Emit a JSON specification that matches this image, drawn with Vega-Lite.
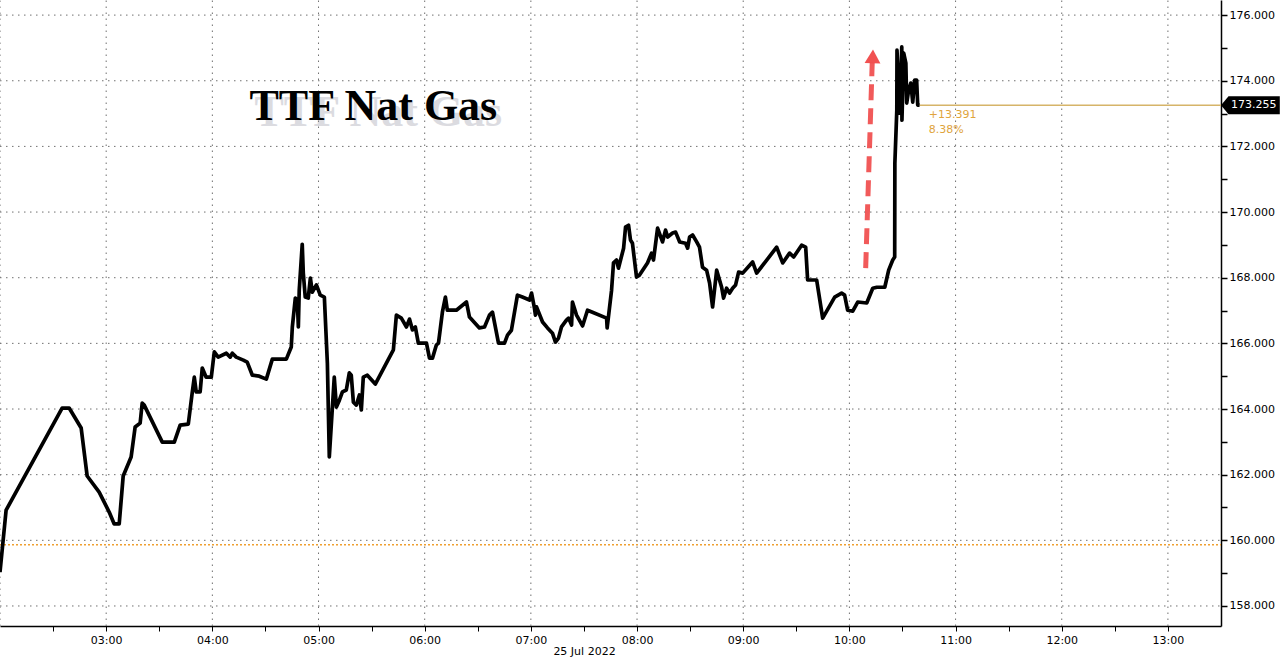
{
  "$schema": "https://vega.github.io/schema/vega-lite/v6.json",
  "width": 1221,
  "height": 626,
  "autosize": {"type": "none"},
  "padding": {"left": 0, "top": 0, "right": 59, "bottom": 32},
  "background": "white",
  "config": {"view": {"stroke": null}},
  "datasets": {
    "price": [
      {"t":"2022-07-25T02:00:00","v":159.03},{"t":"2022-07-25T02:03:27","v":160.92},{"t":"2022-07-25T02:35:06","v":164.03},{"t":"2022-07-25T02:39:05","v":164.03},
      {"t":"2022-07-25T02:45:52","v":163.42},{"t":"2022-07-25T02:49:15","v":161.96},{"t":"2022-07-25T02:56:02","v":161.47},{"t":"2022-07-25T03:01:42","v":160.86},
      {"t":"2022-07-25T03:04:32","v":160.50},{"t":"2022-07-25T03:07:22","v":160.50},{"t":"2022-07-25T03:09:37","v":161.96},{"t":"2022-07-25T03:14:06","v":162.54},
      {"t":"2022-07-25T03:16:22","v":163.45},{"t":"2022-07-25T03:19:12","v":163.57},{"t":"2022-07-25T03:20:21","v":164.18},{"t":"2022-07-25T03:21:30","v":164.12},
      {"t":"2022-07-25T03:31:42","v":162.99},{"t":"2022-07-25T03:38:30","v":162.99},{"t":"2022-07-25T03:41:48","v":163.51},{"t":"2022-07-25T03:46:24","v":163.54},
      {"t":"2022-07-25T03:48:36","v":164.49},{"t":"2022-07-25T03:49:48","v":164.97},{"t":"2022-07-25T03:50:54","v":164.52},{"t":"2022-07-25T03:53:06","v":164.52},
      {"t":"2022-07-25T03:54:18","v":165.25},{"t":"2022-07-25T03:56:30","v":164.97},{"t":"2022-07-25T03:59:24","v":164.97},{"t":"2022-07-25T04:01:06","v":165.74},
      {"t":"2022-07-25T04:03:18","v":165.58},{"t":"2022-07-25T04:07:54","v":165.70},{"t":"2022-07-25T04:10:06","v":165.58},{"t":"2022-07-25T04:11:18","v":165.70},
      {"t":"2022-07-25T04:13:30","v":165.58},{"t":"2022-07-25T04:17:30","v":165.49},{"t":"2022-07-25T04:19:42","v":165.43},{"t":"2022-07-25T04:22:36","v":165.03},
      {"t":"2022-07-25T04:26:30","v":165.00},{"t":"2022-07-25T04:30:30","v":164.91},{"t":"2022-07-25T04:33:54","v":165.52},{"t":"2022-07-25T04:41:48","v":165.52},
      {"t":"2022-07-25T04:44:36","v":165.89},{"t":"2022-07-25T04:45:12","v":166.50},{"t":"2022-07-25T04:46:54","v":167.38},{"t":"2022-07-25T04:48:00","v":167.32},
      {"t":"2022-07-25T04:48:36","v":166.50},{"t":"2022-07-25T04:49:06","v":167.62},{"t":"2022-07-25T04:50:48","v":169.02},{"t":"2022-07-25T04:51:24","v":168.14},
      {"t":"2022-07-25T04:52:30","v":167.41},{"t":"2022-07-25T04:54:12","v":167.38},{"t":"2022-07-25T04:55:24","v":167.99},{"t":"2022-07-25T04:56:30","v":167.56},
      {"t":"2022-07-25T04:58:48","v":167.78},{"t":"2022-07-25T05:01:00","v":167.47},{"t":"2022-07-25T05:03:18","v":167.41},{"t":"2022-07-25T05:05:00","v":165.40},
      {"t":"2022-07-25T05:06:06","v":162.54},{"t":"2022-07-25T05:08:54","v":164.97},{"t":"2022-07-25T05:10:06","v":164.06},{"t":"2022-07-25T05:11:48","v":164.27},
      {"t":"2022-07-25T05:13:30","v":164.52},{"t":"2022-07-25T05:15:42","v":164.58},{"t":"2022-07-25T05:17:24","v":165.10},{"t":"2022-07-25T05:18:30","v":165.03},
      {"t":"2022-07-25T05:19:42","v":164.21},{"t":"2022-07-25T05:21:24","v":164.12},{"t":"2022-07-25T05:23:06","v":164.43},{"t":"2022-07-25T05:24:12","v":163.97},
      {"t":"2022-07-25T05:25:18","v":164.97},{"t":"2022-07-25T05:27:36","v":165.03},{"t":"2022-07-25T05:32:06","v":164.76},{"t":"2022-07-25T05:42:18","v":165.80},
      {"t":"2022-07-25T05:44:00","v":166.86},{"t":"2022-07-25T05:46:48","v":166.77},{"t":"2022-07-25T05:49:42","v":166.50},{"t":"2022-07-25T05:51:24","v":166.74},
      {"t":"2022-07-25T05:53:06","v":166.41},{"t":"2022-07-25T05:54:42","v":166.50},{"t":"2022-07-25T05:56:24","v":166.01},{"t":"2022-07-25T06:01:00","v":166.01},
      {"t":"2022-07-25T06:02:42","v":165.55},{"t":"2022-07-25T06:04:24","v":165.55},{"t":"2022-07-25T06:06:36","v":165.95},{"t":"2022-07-25T06:07:48","v":166.01},
      {"t":"2022-07-25T06:10:00","v":166.95},{"t":"2022-07-25T06:11:42","v":167.41},{"t":"2022-07-25T06:12:48","v":167.01},{"t":"2022-07-25T06:17:54","v":167.01},
      {"t":"2022-07-25T06:23:36","v":167.26},{"t":"2022-07-25T06:25:18","v":166.80},{"t":"2022-07-25T06:30:54","v":166.47},{"t":"2022-07-25T06:33:48","v":166.50},
      {"t":"2022-07-25T06:36:36","v":166.86},{"t":"2022-07-25T06:38:18","v":166.95},{"t":"2022-07-25T06:41:42","v":166.01},{"t":"2022-07-25T06:45:06","v":166.01},
      {"t":"2022-07-25T06:46:48","v":166.25},{"t":"2022-07-25T06:49:00","v":166.40},{"t":"2022-07-25T06:52:24","v":167.47},{"t":"2022-07-25T06:55:12","v":167.41},
      {"t":"2022-07-25T06:59:12","v":167.32},{"t":"2022-07-25T07:00:24","v":167.53},{"t":"2022-07-25T07:02:00","v":167.08},{"t":"2022-07-25T07:02:36","v":166.86},
      {"t":"2022-07-25T07:03:12","v":167.11},{"t":"2022-07-25T07:06:36","v":166.65},{"t":"2022-07-25T07:09:24","v":166.47},{"t":"2022-07-25T07:12:12","v":166.31},
      {"t":"2022-07-25T07:13:54","v":166.04},{"t":"2022-07-25T07:15:36","v":166.16},{"t":"2022-07-25T07:17:18","v":166.50},{"t":"2022-07-25T07:20:06","v":166.71},
      {"t":"2022-07-25T07:21:18","v":166.77},{"t":"2022-07-25T07:23:00","v":166.56},{"t":"2022-07-25T07:23:30","v":167.26},{"t":"2022-07-25T07:25:48","v":166.86},
      {"t":"2022-07-25T07:29:12","v":166.53},{"t":"2022-07-25T07:32:00","v":167.01},{"t":"2022-07-25T07:34:48","v":166.95},{"t":"2022-07-25T07:42:48","v":166.77},
      {"t":"2022-07-25T07:43:06","v":166.47},{"t":"2022-07-25T07:45:36","v":167.62},{"t":"2022-07-25T07:46:42","v":168.45},{"t":"2022-07-25T07:48:24","v":168.54},
      {"t":"2022-07-25T07:49:30","v":168.29},{"t":"2022-07-25T07:52:24","v":168.90},{"t":"2022-07-25T07:53:30","v":169.54},{"t":"2022-07-25T07:55:12","v":169.60},
      {"t":"2022-07-25T07:56:18","v":169.15},{"t":"2022-07-25T07:57:24","v":169.05},{"t":"2022-07-25T07:59:42","v":168.02},{"t":"2022-07-25T08:01:24","v":168.08},
      {"t":"2022-07-25T08:05:54","v":168.45},{"t":"2022-07-25T08:08:12","v":168.75},{"t":"2022-07-25T08:09:18","v":168.54},{"t":"2022-07-25T08:11:36","v":169.51},
      {"t":"2022-07-25T08:14:24","v":169.09},{"t":"2022-07-25T08:16:06","v":169.45},{"t":"2022-07-25T08:17:18","v":169.24},{"t":"2022-07-25T08:20:06","v":169.36},
      {"t":"2022-07-25T08:21:48","v":169.39},{"t":"2022-07-25T08:24:06","v":169.09},{"t":"2022-07-25T08:27:24","v":169.05},{"t":"2022-07-25T08:28:36","v":168.90},
      {"t":"2022-07-25T08:29:42","v":169.24},{"t":"2022-07-25T08:31:24","v":169.30},{"t":"2022-07-25T08:33:42","v":169.09},{"t":"2022-07-25T08:35:18","v":168.93},
      {"t":"2022-07-25T08:37:00","v":168.32},{"t":"2022-07-25T08:39:18","v":168.23},{"t":"2022-07-25T08:41:00","v":167.84},{"t":"2022-07-25T08:42:42","v":167.11},
      {"t":"2022-07-25T08:45:00","v":168.23},{"t":"2022-07-25T08:47:48","v":167.71},{"t":"2022-07-25T08:48:54","v":167.38},{"t":"2022-07-25T08:50:36","v":167.68},
      {"t":"2022-07-25T08:52:18","v":167.53},{"t":"2022-07-25T08:54:00","v":167.68},{"t":"2022-07-25T08:55:42","v":167.78},{"t":"2022-07-25T08:57:24","v":168.17},
      {"t":"2022-07-25T08:59:42","v":168.14},{"t":"2022-07-25T09:05:18","v":168.48},{"t":"2022-07-25T09:07:36","v":168.14},{"t":"2022-07-25T09:18:54","v":168.93},
      {"t":"2022-07-25T09:22:18","v":168.45},{"t":"2022-07-25T09:26:12","v":168.75},{"t":"2022-07-25T09:28:30","v":168.63},{"t":"2022-07-25T09:33:00","v":168.99},
      {"t":"2022-07-25T09:35:18","v":168.93},{"t":"2022-07-25T09:36:24","v":167.93},{"t":"2022-07-25T09:41:30","v":167.93},{"t":"2022-07-25T09:44:54","v":166.77},
      {"t":"2022-07-25T09:51:42","v":167.41},{"t":"2022-07-25T09:55:36","v":167.53},{"t":"2022-07-25T09:57:18","v":167.47},{"t":"2022-07-25T09:59:00","v":167.01},
      {"t":"2022-07-25T10:01:54","v":166.98},{"t":"2022-07-25T10:04:42","v":167.26},{"t":"2022-07-25T10:09:48","v":167.23},{"t":"2022-07-25T10:13:12","v":167.68},
      {"t":"2022-07-25T10:15:30","v":167.71},{"t":"2022-07-25T10:20:00","v":167.71},{"t":"2022-07-25T10:22:12","v":168.23},{"t":"2022-07-25T10:24:30","v":168.54},
      {"t":"2022-07-25T10:25:36","v":168.63},{"t":"2022-07-25T10:25:42","v":171.49},{"t":"2022-07-25T10:26:48","v":173.11},{"t":"2022-07-25T10:26:54","v":174.93},
      {"t":"2022-07-25T10:28:30","v":173.01},{"t":"2022-07-25T10:29:36","v":175.03},{"t":"2022-07-25T10:29:42","v":172.80},{"t":"2022-07-25T10:30:42","v":174.84},
      {"t":"2022-07-25T10:31:54","v":174.54},{"t":"2022-07-25T10:32:24","v":173.32},{"t":"2022-07-25T10:33:30","v":173.72},{"t":"2022-07-25T10:34:42","v":173.93},
      {"t":"2022-07-25T10:35:48","v":173.35},{"t":"2022-07-25T10:36:54","v":174.02},{"t":"2022-07-25T10:38:00","v":174.02},{"t":"2022-07-25T10:38:36","v":173.26},
      {"t":"2022-07-25T10:39:42","v":173.255}
    ],
    "ygrid": [
      {"v":158,"t":"2022-07-25T02:00:00","t2":"2022-07-25T13:30:00"},{"v":160,"t":"2022-07-25T02:00:00","t2":"2022-07-25T13:30:00"},
      {"v":162,"t":"2022-07-25T02:00:00","t2":"2022-07-25T13:30:00"},{"v":164,"t":"2022-07-25T02:00:00","t2":"2022-07-25T13:30:00"},
      {"v":166,"t":"2022-07-25T02:00:00","t2":"2022-07-25T13:30:00"},{"v":168,"t":"2022-07-25T02:00:00","t2":"2022-07-25T13:30:00"},
      {"v":170,"t":"2022-07-25T02:00:00","t2":"2022-07-25T13:30:00"},{"v":172,"t":"2022-07-25T02:00:00","t2":"2022-07-25T13:30:00"},
      {"v":174,"t":"2022-07-25T02:00:00","t2":"2022-07-25T13:30:00"},{"v":176,"t":"2022-07-25T02:00:00","t2":"2022-07-25T13:30:00"}
    ],
    "xgrid": [
      {"t":"2022-07-25T02:00:00","v":157.39,"v2":176.46},{"t":"2022-07-25T03:00:00","v":157.39,"v2":176.46},
      {"t":"2022-07-25T04:00:00","v":157.39,"v2":176.46},{"t":"2022-07-25T05:00:00","v":157.39,"v2":176.46},
      {"t":"2022-07-25T06:00:00","v":157.39,"v2":176.46},{"t":"2022-07-25T07:00:00","v":157.39,"v2":176.46},
      {"t":"2022-07-25T08:00:00","v":157.39,"v2":176.46},{"t":"2022-07-25T09:00:00","v":157.39,"v2":176.46},
      {"t":"2022-07-25T10:00:00","v":157.39,"v2":176.46},{"t":"2022-07-25T11:00:00","v":157.39,"v2":176.46},
      {"t":"2022-07-25T12:00:00","v":157.39,"v2":176.46},{"t":"2022-07-25T13:00:00","v":157.39,"v2":176.46}
    ],
    "prev": [{"t":"2022-07-25T02:00:00","t2":"2022-07-25T13:30:00","v":159.864}],
    "last": [{"t":"2022-07-25T10:39:42","t2":"2022-07-25T13:30:00","v":173.255}],
    "arrow": [{"t":"2022-07-25T10:09:12","v":168.29,"t2":"2022-07-25T10:12:54","v2":174.55}],
    "arrowhead": [{"t":"2022-07-25T10:13:12","v":174.74}],
    "title": [{"t":"2022-07-25T05:31:00","v":172.80,"label":"TTF Nat Gas"}],
    "change": [
      {"t":"2022-07-25T10:44:48","v":172.86,"label":"+13.391"},
      {"t":"2022-07-25T10:44:48","v":172.41,"label":"8.38%"}
    ],
    "tag": [{"t":"2022-07-25T13:30:00","v":173.255,"label":"173.255"}]
  },
  "encoding": {
    "x": {
      "field": "t",
      "type": "temporal",
      "scale": {"domain": [
        {"year": 2022, "month": 7, "date": 25, "hours": 2, "minutes": 0},
        {"year": 2022, "month": 7, "date": 25, "hours": 13, "minutes": 30}
      ]},
      "axis": {
        "title": "25 Jul 2022",
        "titleFont": "DejaVu Sans",
        "titleFontSize": 11,
        "titleFontWeight": "normal",
        "titleColor": "#000000",
        "titleX": 584,
        "titleY": 28,
        "titleAlign": "center",
        "titleBaseline": "alphabetic",
        "values": [
          {"year": 2022, "month": 7, "date": 25, "hours": 2, "minutes": 30},
          {"year": 2022, "month": 7, "date": 25, "hours": 3},
          {"year": 2022, "month": 7, "date": 25, "hours": 3, "minutes": 30},
          {"year": 2022, "month": 7, "date": 25, "hours": 4},
          {"year": 2022, "month": 7, "date": 25, "hours": 4, "minutes": 30},
          {"year": 2022, "month": 7, "date": 25, "hours": 5},
          {"year": 2022, "month": 7, "date": 25, "hours": 5, "minutes": 30},
          {"year": 2022, "month": 7, "date": 25, "hours": 6},
          {"year": 2022, "month": 7, "date": 25, "hours": 6, "minutes": 30},
          {"year": 2022, "month": 7, "date": 25, "hours": 7},
          {"year": 2022, "month": 7, "date": 25, "hours": 7, "minutes": 30},
          {"year": 2022, "month": 7, "date": 25, "hours": 8},
          {"year": 2022, "month": 7, "date": 25, "hours": 8, "minutes": 30},
          {"year": 2022, "month": 7, "date": 25, "hours": 9},
          {"year": 2022, "month": 7, "date": 25, "hours": 9, "minutes": 30},
          {"year": 2022, "month": 7, "date": 25, "hours": 10},
          {"year": 2022, "month": 7, "date": 25, "hours": 10, "minutes": 30},
          {"year": 2022, "month": 7, "date": 25, "hours": 11},
          {"year": 2022, "month": 7, "date": 25, "hours": 11, "minutes": 30},
          {"year": 2022, "month": 7, "date": 25, "hours": 12},
          {"year": 2022, "month": 7, "date": 25, "hours": 12, "minutes": 30},
          {"year": 2022, "month": 7, "date": 25, "hours": 13}
        ],
        "labelExpr": "minutes(datum.value) == 0 ? timeFormat(datum.value, '%H:%M') : ''",
        "labelOverlap": false,
        "labelFlush": false,
        "labelFont": "DejaVu Sans",
        "labelFontSize": 11,
        "labelColor": "#000000",
        "labelPadding": 3,
        "grid": false,
        "tickSize": 5,
        "tickColor": "#000000",
        "domainColor": "#000000",
        "domainWidth": 1.5
      }
    },
    "y": {
      "field": "v",
      "type": "quantitative",
      "scale": {"domain": [157.39, 176.46], "nice": false, "zero": false},
      "axis": {
        "orient": "right",
        "title": null,
        "values": [158,159,160,161,162,163,164,165,166,167,168,169,170,171,172,173,174,175,176],
        "labelExpr": "datum.value % 2 == 0 ? format(datum.value, '.3f') : ''",
        "labelOverlap": false,
        "labelFlush": false,
        "labelFont": "DejaVu Sans",
        "labelFontSize": 11,
        "labelColor": "#000000",
        "labelPadding": 2,
        "grid": false,
        "tickSize": 6,
        "tickColor": "#000000",
        "tickWidth": 1.5,
        "domainColor": "#000000",
        "domainWidth": 1.5
      }
    }
  },
  "layer": [
    {
      "data": {"name": "ygrid"},
      "mark": {"type": "rule", "color": "#707070", "strokeDash": [1.5, 4.5], "strokeWidth": 1},
      "encoding": {"x2": {"field": "t2"}}
    },
    {
      "data": {"name": "xgrid"},
      "mark": {"type": "rule", "color": "#707070", "strokeDash": [1.5, 4.5], "strokeWidth": 1},
      "encoding": {"y2": {"field": "v2"}}
    },
    {
      "data": {"name": "prev"},
      "mark": {"type": "rule", "color": "#f0a030", "strokeDash": [2, 2], "strokeWidth": 1.5},
      "encoding": {"x2": {"field": "t2"}}
    },
    {
      "data": {"name": "last"},
      "mark": {"type": "rule", "color": "#d6b469", "strokeWidth": 1.5},
      "encoding": {"x2": {"field": "t2"}}
    },
    {
      "data": {"name": "arrow"},
      "mark": {"type": "rule", "color": "#f04848", "strokeWidth": 5, "strokeDash": [16, 8], "opacity": 0.9},
      "encoding": {"x2": {"field": "t2"}, "y2": {"field": "v2"}}
    },
    {
      "data": {"name": "arrowhead"},
      "mark": {"type": "point", "shape": "triangle-up", "filled": true, "color": "#f04848", "size": 250, "angle": 2, "opacity": 0.95}
    },
    {
      "data": {"name": "price"},
      "mark": {"type": "line", "color": "#000000", "strokeWidth": 3.7, "strokeJoin": "round"}
    },
    {
      "data": {"name": "title"},
      "mark": {"type": "text", "font": "Liberation Serif", "fontSize": 44, "fontWeight": "bold", "color": "#8a8a9a", "opacity": 0.3, "align": "center", "baseline": "alphabetic", "dx": 5, "dy": 6},
      "encoding": {"text": {"field": "label"}}
    },
    {
      "data": {"name": "title"},
      "mark": {"type": "text", "font": "Liberation Serif", "fontSize": 44, "fontWeight": "bold", "color": "#000000", "align": "center", "baseline": "alphabetic"},
      "encoding": {"text": {"field": "label"}}
    },
    {
      "data": {"name": "change"},
      "mark": {"type": "text", "font": "DejaVu Sans", "fontSize": 11, "color": "#e0a43c", "align": "left", "baseline": "alphabetic"},
      "encoding": {"text": {"field": "label"}}
    },
    {
      "data": {"name": "tag"},
      "mark": {"type": "point", "shape": "M0,0L0.25,-0.3L1.96,-0.3L1.96,0.3L0.25,0.3Z", "filled": true, "color": "#000000", "size": 3600, "opacity": 1}
    },
    {
      "data": {"name": "tag"},
      "mark": {"type": "text", "font": "DejaVu Sans", "fontSize": 11, "color": "#ffffff", "align": "left", "baseline": "middle", "dx": 10},
      "encoding": {"text": {"field": "label"}}
    }
  ]
}
